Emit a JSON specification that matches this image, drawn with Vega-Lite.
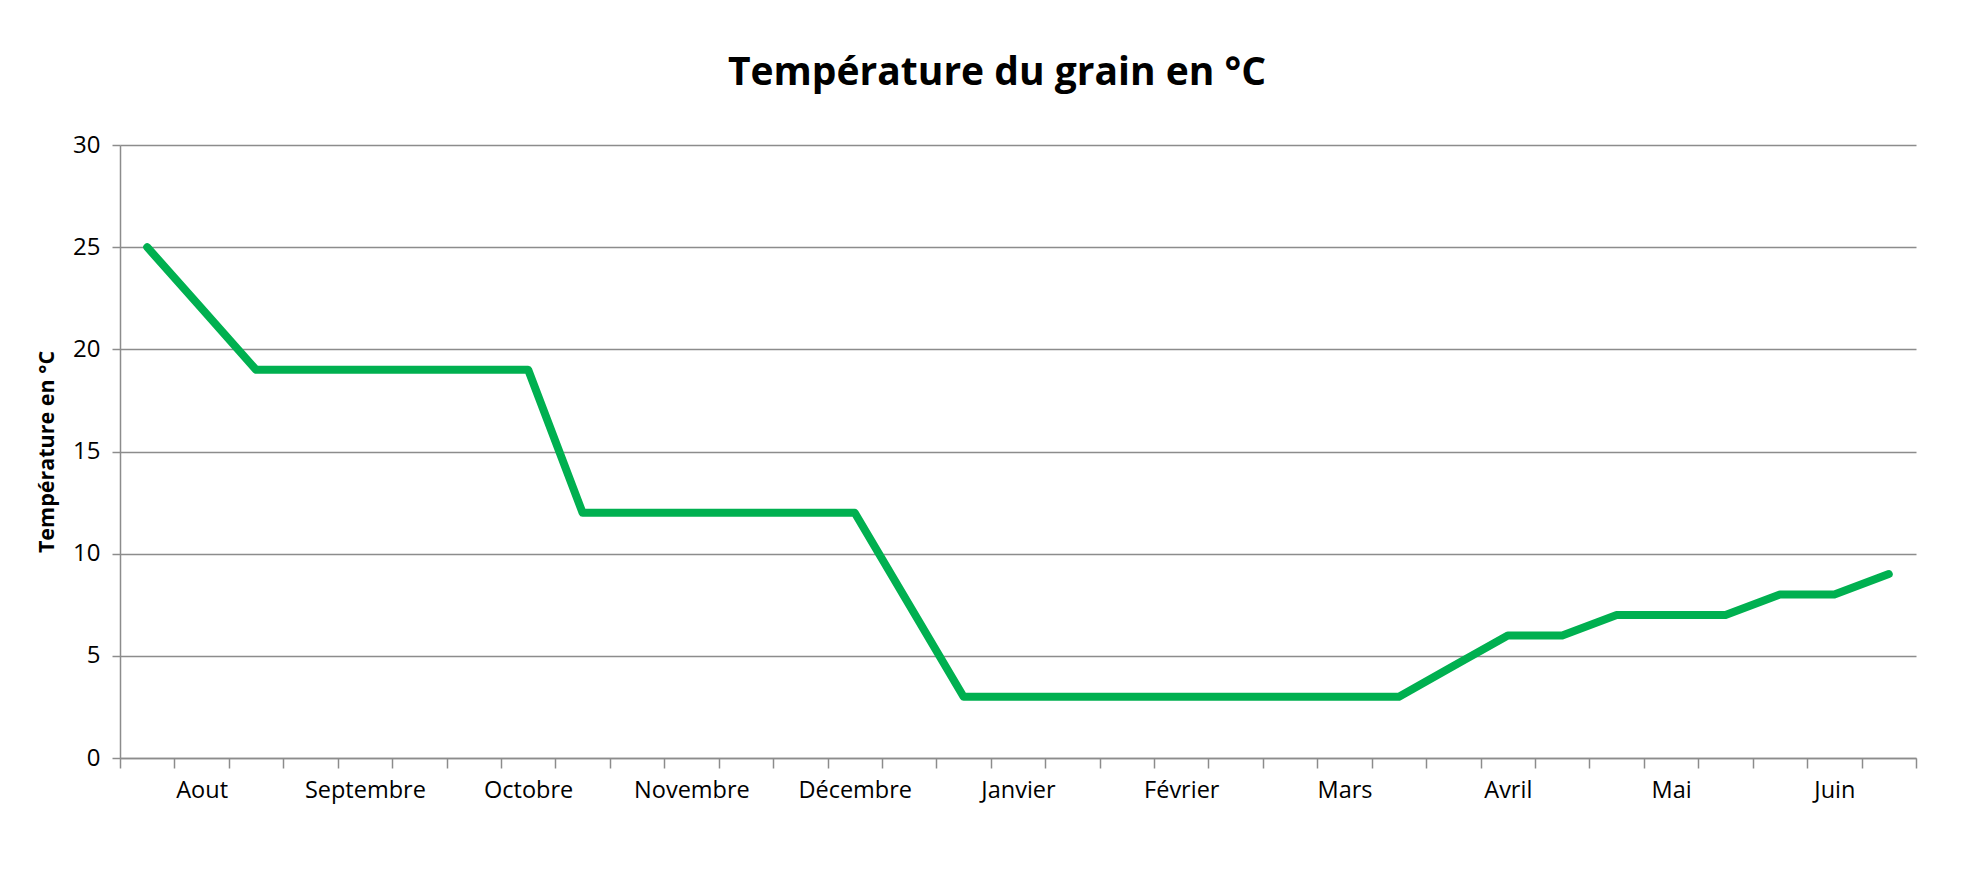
{
  "$schema": "https://vega.github.io/schema/vega-lite/v6.json",
  "width": 1796,
  "height": 613,
  "autosize": {"type": "none"},
  "padding": {"left": 120, "top": 145, "right": 62, "bottom": 122},
  "background": "white",
  "title": {
    "text": "Température du grain en °C",
    "font": "Open Sans",
    "fontSize": 39,
    "fontWeight": "bold",
    "color": "#000000",
    "anchor": "middle",
    "baseline": "alphabetic",
    "offset": 9,
    "dx": -21
  },
  "data": {
    "values": [
      {"slot": 1, "temp": 25},
      {"slot": 2, "temp": 22},
      {"slot": 3, "temp": 19},
      {"slot": 4, "temp": 19},
      {"slot": 5, "temp": 19},
      {"slot": 6, "temp": 19},
      {"slot": 7, "temp": 19},
      {"slot": 8, "temp": 19},
      {"slot": 9, "temp": 12},
      {"slot": 10, "temp": 12},
      {"slot": 11, "temp": 12},
      {"slot": 12, "temp": 12},
      {"slot": 13, "temp": 12},
      {"slot": 14, "temp": 12},
      {"slot": 15, "temp": 7.5},
      {"slot": 16, "temp": 3},
      {"slot": 17, "temp": 3},
      {"slot": 18, "temp": 3},
      {"slot": 19, "temp": 3},
      {"slot": 20, "temp": 3},
      {"slot": 21, "temp": 3},
      {"slot": 22, "temp": 3},
      {"slot": 23, "temp": 3},
      {"slot": 24, "temp": 3},
      {"slot": 25, "temp": 4.5},
      {"slot": 26, "temp": 6},
      {"slot": 27, "temp": 6},
      {"slot": 28, "temp": 7},
      {"slot": 29, "temp": 7},
      {"slot": 30, "temp": 7},
      {"slot": 31, "temp": 8},
      {"slot": 32, "temp": 8},
      {"slot": 33, "temp": 9}
    ]
  },
  "mark": {"type": "line", "color": "#00B050", "strokeWidth": 8, "strokeJoin": "round", "strokeCap": "round"},
  "encoding": {
    "x": {
      "field": "slot",
      "type": "quantitative",
      "scale": {"domain": [0.5, 33.5], "nice": false, "zero": false},
      "axis": {
        "title": null,
        "values": [0.5, 1.5, 2.5, 3.5, 4.5, 5.5, 6.5, 7.5, 8.5, 9.5, 10.5, 11.5, 12.5, 13.5, 14.5, 15.5, 16.5, 17.5, 18.5, 19.5, 20.5, 21.5, 22.5, 23.5, 24.5, 25.5, 26.5, 27.5, 28.5, 29.5, 30.5, 31.5, 32.5, 33.5],
        "labelExpr": "(datum.value - 1.5) % 3 == 0 ? ['Aout','Septembre','Octobre','Novembre','Décembre','Janvier','Février','Mars','Avril','Mai','Juin'][(datum.value - 1.5) / 3] : ''",
        "labelOffset": 27.2,
        "labelOverlap": false,
        "labelFlush": false,
        "labelBound": false,
        "labelFont": "Open Sans",
        "labelFontSize": 23.5,
        "labelColor": "#000000",
        "labelPadding": 10,
        "tickSize": 10,
        "tickColor": "#8c8c8c",
        "tickWidth": 1.5,
        "domainColor": "#8c8c8c",
        "domainWidth": 1.5,
        "grid": false
      }
    },
    "y": {
      "field": "temp",
      "type": "quantitative",
      "scale": {"domain": [0, 30], "nice": false},
      "axis": {
        "title": "Température en °C",
        "titleFont": "Open Sans",
        "titleFontSize": 21.5,
        "titleFontWeight": "bold",
        "titleColor": "#000000",
        "titlePadding": 14,
        "values": [0, 5, 10, 15, 20, 25, 30],
        "labelFont": "Open Sans",
        "labelFontSize": 24,
        "labelColor": "#000000",
        "labelPadding": 12,
        "tickSize": 8,
        "tickColor": "#8c8c8c",
        "tickWidth": 1.5,
        "domainColor": "#8c8c8c",
        "domainWidth": 1.5,
        "grid": true,
        "gridColor": "#8c8c8c",
        "gridWidth": 1.5
      }
    }
  },
  "config": {"view": {"stroke": null}}
}
